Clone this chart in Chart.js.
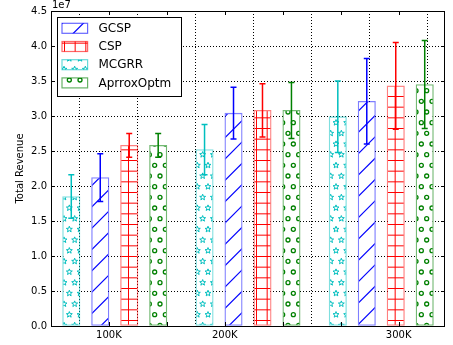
<!DOCTYPE html>
<html><head><meta charset="utf-8">
<script src="https://cdn.jsdelivr.net/npm/chart.js@4/dist/chart.umd.min.js"></script>
<style>html,body{margin:0;padding:0;background:#fff;}#wrap{width:453px;height:345px;}</style>
</head><body><div id="wrap"><canvas id="c" width="453" height="345"></canvas></div>
<script>
// ---- data ----
const categories = ['100K', '200K', '300K'];
const seriesNames = ['GCSP', 'CSP', 'MCGRR', 'AprroxOptm'];
const gcspValues  = [2.12e7, 3.04e7, 3.21e7];
const gcspErrors  = [0.34e7, 0.37e7, 0.61e7];
const cspValues   = [2.58e7, 3.08e7, 3.43e7];
const cspErrors   = [0.17e7, 0.38e7, 0.62e7];
const mcgrrValues = [1.85e7, 2.52e7, 2.99e7];
const mcgrrErrors = [0.31e7, 0.36e7, 0.51e7];
const aoValues    = [2.58e7, 3.08e7, 3.45e7];
const aoErrors    = [0.17e7, 0.40e7, 0.63e7];
const xTickValues = [0, 1, 2, 3, 4, 5, 6];
const xTickLabels = ['', categories[0], '', categories[1], '', '', categories[2]];
const yTickValues = [0, 0.5e7, 1e7, 1.5e7, 2e7, 2.5e7, 3e7, 3.5e7, 4e7, 4.5e7];

// ---- layout of groups (x units) ----
const groupStart = [0.2, 2.5, 4.8];
const slotStep = 0.5, barHalf = 0.15;

// ---- hatch patterns ----
const TILE = 64, SP = 64 / 6;
function tile(draw) {
  const c = document.createElement('canvas'); c.width = TILE; c.height = TILE;
  const g = c.getContext('2d'); g.fillStyle = '#fff'; g.fillRect(0, 0, TILE, TILE);
  draw(g);
  return document.getElementById('c').getContext('2d').createPattern(c, 'repeat');
}
function lattice(g, fn) {
  for (let r = -1; r <= 6; r++) for (let k = -1; k <= 7; k++) {
    const x = k * SP + (r % 2 ? SP / 2 : 0), y = r * SP + SP / 2;
    fn(x, y);
  }
}
const patSlash = tile(g => {
  g.strokeStyle = '#0000ff'; g.lineWidth = 1.2;
  for (let c = 0; c <= 128.1; c += 64 / 3) { g.beginPath(); g.moveTo(-5, c + 5); g.lineTo(c + 5, -5); g.stroke(); }
});
const patPlus = tile(g => {
  g.strokeStyle = '#ff0000'; g.lineWidth = 1;
  for (let k = 0; k <= 6; k++) {
    const p = k * SP + 0.5;
    g.beginPath(); g.moveTo(p, 0); g.lineTo(p, TILE); g.stroke();
    g.beginPath(); g.moveTo(0, p); g.lineTo(TILE, p); g.stroke();
  }
});
const patStar = tile(g => {
  g.strokeStyle = '#00bfbf'; g.lineWidth = 1;
  lattice(g, (x, y) => {
    g.beginPath();
    for (let i = 0; i < 10; i++) {
      const r = i % 2 ? 1.3 : 3.1, a = -Math.PI / 2 + i * Math.PI / 5;
      const px = x + r * Math.cos(a), py = y + r * Math.sin(a);
      i ? g.lineTo(px, py) : g.moveTo(px, py);
    }
    g.closePath(); g.stroke();
  });
});
const patCircle = tile(g => {
  g.strokeStyle = '#008000'; g.lineWidth = 1.3;
  lattice(g, (x, y) => { g.beginPath(); g.arc(x, y, 2, 0, Math.PI * 2); g.stroke(); });
});

const series = [
  { name: seriesNames[0], values: gcspValues,  errors: gcspErrors,  slot: 1, color: '#0000ff', edge: 'rgba(0,0,255,0.5)',   pat: patSlash },
  { name: seriesNames[1], values: cspValues,   errors: cspErrors,   slot: 2, color: '#ff0000', edge: 'rgba(255,0,0,0.5)',   pat: patPlus },
  { name: seriesNames[2], values: mcgrrValues, errors: mcgrrErrors, slot: 0, color: '#00bfbf', edge: 'rgba(0,191,191,0.5)', pat: patStar },
  { name: seriesNames[3], values: aoValues,    errors: aoErrors,    slot: 3, color: '#008000', edge: 'rgba(0,128,0,0.55)',  pat: patCircle },
];

const datasets = series.map(s => ({
  label: s.name,
  data: s.values.map((v, i) => ({ x: groupStart[i] + s.slot * slotStep + barHalf, y: v })),
  errors: s.errors,
  hatchColor: s.color,
  backgroundColor: s.pat,
  borderColor: s.edge,
  borderWidth: 1.3,
  borderSkipped: false,
  barThickness: 17.4,
  grouped: false,
}));

const FONT = 'DejaVu Sans';

const extras = {
  id: 'extras',
  afterDatasetsDraw(chart) {
    const ctx = chart.ctx, y = chart.scales.y;
    chart.data.datasets.forEach((ds, di) => {
      const meta = chart.getDatasetMeta(di);
      ctx.save(); ctx.strokeStyle = ds.hatchColor; ctx.lineWidth = 1.5;
      meta.data.forEach((bar, i) => {
        const v = ds.data[i].y, e = ds.errors[i];
        const yt = y.getPixelForValue(v + e), yb = y.getPixelForValue(v - e), x = bar.x;
        ctx.beginPath(); ctx.moveTo(x, yt); ctx.lineTo(x, yb);
        ctx.moveTo(x - 3, yt); ctx.lineTo(x + 3, yt);
        ctx.moveTo(x - 3, yb); ctx.lineTo(x + 3, yb); ctx.stroke();
      });
      ctx.restore();
    });
  },
  afterDraw(chart) {
    const ctx = chart.ctx, a = chart.chartArea, xs = chart.scales.x, ys = chart.scales.y;
    ctx.save();
    // frame
    ctx.strokeStyle = '#000'; ctx.lineWidth = 1;
    ctx.strokeRect(Math.round(a.left) + 0.5, Math.round(a.top) + 0.5, Math.round(a.right - a.left) - 1, Math.round(a.bottom - a.top));
    // inward ticks
    ctx.beginPath();
    xTickValues.forEach(v => {
      const px = Math.round(xs.getPixelForValue(v)) + 0.5;
      ctx.moveTo(px, a.bottom); ctx.lineTo(px, a.bottom - 4);
      ctx.moveTo(px, a.top); ctx.lineTo(px, a.top + 4);
    });
    yTickValues.forEach(v => {
      const py = Math.round(ys.getPixelForValue(v)) + 0.5;
      ctx.moveTo(a.left, py); ctx.lineTo(a.left + 4, py);
      ctx.moveTo(a.right, py); ctx.lineTo(a.right - 4, py);
    });
    ctx.stroke();
    // offset text
    ctx.fillStyle = '#000'; ctx.font = '10px "' + FONT + '"';
    ctx.textBaseline = 'bottom'; ctx.textAlign = 'left';
    ctx.fillText('1e7', a.left + 1, a.top - 1);
    // legend
    const lx = a.left + 6, ly = a.top + 6, lw = 124, lh = 79;
    ctx.fillStyle = '#fff'; ctx.fillRect(lx, ly, lw, lh);
    ctx.strokeStyle = '#000'; ctx.lineWidth = 1;
    ctx.strokeRect(Math.round(lx) + 0.5, Math.round(ly) + 0.5, lw, lh);
    ctx.font = '12px "' + FONT + '"'; ctx.textBaseline = 'middle';
    chart.data.datasets.forEach((ds, i) => {
      const cy = ly + 11.3 + i * 18.2;
      ctx.fillStyle = ds.backgroundColor;
      ctx.fillRect(lx + 5, cy - 5, 25.6, 10);
      ctx.strokeStyle = ds.hatchColor; ctx.globalAlpha = 0.6; ctx.lineWidth = 1.2;
      ctx.strokeRect(lx + 5, cy - 5, 25.6, 10); ctx.globalAlpha = 1;
      ctx.fillStyle = '#000';
      ctx.fillText(ds.label, lx + 41.5, cy + 0.5);
    });
    ctx.restore();
  }
};

new Chart(document.getElementById('c'), {
  type: 'bar',
  data: { datasets },
  options: {
    responsive: false, animation: false, devicePixelRatio: 1,
    layout: { padding: { top: 11, right: 8, left: 0, bottom: 0 } },
    plugins: { legend: { display: false }, tooltip: { enabled: false } },
    scales: {
      x: {
        type: 'linear', min: 0, max: 6.8, offset: false, z: 1,
        afterFit: s => { s.height = 19; },
        afterBuildTicks: s => { s.ticks = xTickValues.map(v => ({ value: v })); },
        grid: { color: '#000', lineWidth: 1, drawTicks: false },
        border: { display: false, dash: [1, 2] },
        ticks: { color: '#000', padding: 3, font: { family: FONT, size: 10 }, maxRotation: 0, autoSkip: false,
                 callback: (v, i) => xTickLabels[i] }
      },
      y: {
        min: 0, max: 4.5e7, z: 1,
        afterFit: s => { s.width = 51; },
        afterBuildTicks: s => { s.ticks = yTickValues.map(v => ({ value: v })); },
        grid: { color: '#000', lineWidth: 1, drawTicks: false },
        border: { display: false, dash: [1, 2] },
        ticks: { color: '#000', padding: 4, font: { family: FONT, size: 10 },
                 callback: v => (v / 1e7).toFixed(1) },
        title: { display: true, text: 'Total Revenue', color: '#000', font: { family: FONT, size: 10 }, padding: { top: 14, bottom: 0 } }
      }
    }
  },
  plugins: [extras]
});
</script></body></html>
